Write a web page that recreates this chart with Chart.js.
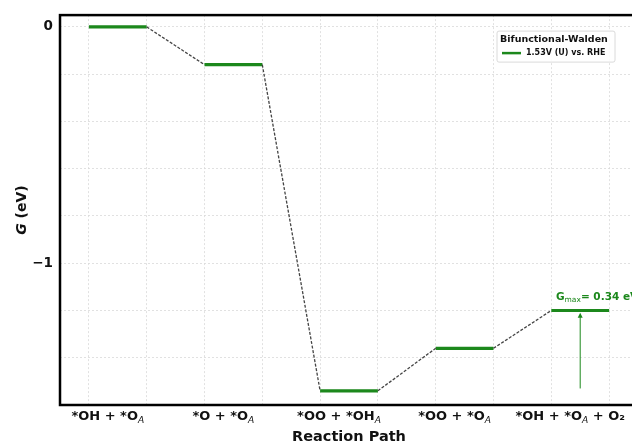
<!DOCTYPE html>
<html lang="en">
  <head>
    <meta charset="UTF-8" />
    <title>Free energy diagram - Bifunctional-Walden</title>
    <script src="https://cdn.jsdelivr.net/npm/chart.js"></script>
    <style>
      body { margin: 0; overflow: hidden; background: #fff; }
      #wrap { width: 650px; height: 444px; }
    </style>
  </head>
  <body>
    <div id="wrap"><canvas id="gChart"></canvas></div>

    <script>
      // reaction steps (text inside _{...} is drawn as subscript)
      const categories = [
        "*OH + *O_{A}",
        "*O + *O_{A}",
        "*OO + *OH_{A}",
        "*OO + *O_{A}",
        "*OH + *O_{A} + O₂",
      ];
      // free energy of each step (eV) at 1.53 V
      const energies = [0, -0.16, -1.54, -1.36, -1.2];
      const yTicks = [0, -0.2, -0.4, -0.6, -0.8, -1, -1.2, -1.4, -1.6];
      const xGrid = [-0.25, 0.25, 0.75, 1.25, 1.75, 2.25, 2.75, 3.25, 3.75, 4.25];

      const legendTitle = "Bifunctional-Walden";
      const seriesLabel = "1.53V (U) vs. RHE";
      const gmaxValue = "0.34";
      const green = "#1c881c";
      const FONT = "DejaVu Sans";

      // build level segments + dashed connectors from the arrays
      const levelPts = [];
      energies.forEach((e, i) => {
        levelPts.push({ x: i - 0.25, y: e }, { x: i + 0.25, y: e }, { x: i + 0.25, y: null });
      });
      const linkPts = [];
      for (let i = 0; i < energies.length - 1; i++) {
        linkPts.push({ x: i + 0.25, y: energies[i] }, { x: i + 0.75, y: energies[i + 1] }, { x: i + 0.75, y: null });
      }

      // text with _{sub} parts
      function drawRich(ctx, str, cx, cy, size) {
        const parts = [];
        const re = /_\{([^}]*)\}/g;
        let last = 0, m;
        while ((m = re.exec(str))) {
          if (m.index > last) parts.push({ t: str.slice(last, m.index), sub: false });
          parts.push({ t: m[1], sub: true });
          last = re.lastIndex;
        }
        if (last < str.length) parts.push({ t: str.slice(last), sub: false });
        const fontOf = (p) => p.sub
          ? "italic " + (size * 0.7).toFixed(1) + "px '" + FONT + "'"
          : "bold " + size + "px '" + FONT + "'";
        let w = 0;
        parts.forEach((p) => { ctx.font = fontOf(p); p.w = ctx.measureText(p.t).width; w += p.w; });
        let xx = cx - w / 2;
        ctx.textAlign = "left";
        ctx.textBaseline = "alphabetic";
        parts.forEach((p) => {
          ctx.font = fontOf(p);
          ctx.fillText(p.t, xx, cy + (p.sub ? size * 0.25 : 0));
          xx += p.w;
        });
      }

      const overlay = {
        id: "overlay",
        afterDraw(chart) {
          const { ctx, chartArea: a, scales } = chart;
          const x = scales.x, y = scales.y;
          ctx.save();

          // frame
          ctx.strokeStyle = "#000";
          ctx.lineWidth = 2.5;
          ctx.strokeRect(a.left, a.top, a.right - a.left, a.bottom - a.top);

          // category labels
          ctx.fillStyle = "#111";
          categories.forEach((c, i) => drawRich(ctx, c, x.getPixelForValue(i) - 10, a.bottom + 15, 13));

          // y title: italic G (eV)
          ctx.save();
          ctx.translate(22, (a.top + a.bottom) / 2);
          ctx.rotate(-Math.PI / 2);
          ctx.font = "bold italic 14px '" + FONT + "'";
          const gW = ctx.measureText("G").width;
          ctx.font = "bold 14px '" + FONT + "'";
          const rW = ctx.measureText(" (eV)").width;
          ctx.textBaseline = "middle";
          ctx.textAlign = "left";
          ctx.font = "bold italic 14px '" + FONT + "'";
          ctx.fillText("G", -(gW + rW) / 2, 0);
          ctx.font = "bold 14px '" + FONT + "'";
          ctx.fillText(" (eV)", -(gW + rW) / 2 + gW, 0);
          ctx.restore();

          // Gmax arrow between lowest level and last level
          const last = energies.length - 1;
          const ax = x.getPixelForValue(last);
          const y0 = y.getPixelForValue(Math.min(...energies) + 0.01);
          const y1 = y.getPixelForValue(energies[last] - 0.01);
          ctx.strokeStyle = green;
          ctx.fillStyle = green;
          ctx.lineWidth = 1;
          ctx.beginPath();
          ctx.moveTo(ax, y0);
          ctx.lineTo(ax, y1 + 4);
          ctx.stroke();
          ctx.beginPath();
          ctx.moveTo(ax, y1);
          ctx.lineTo(ax - 2.5, y1 + 5);
          ctx.lineTo(ax + 2.5, y1 + 5);
          ctx.closePath();
          ctx.fill();

          // Gmax label
          let tx = x.getPixelForValue(last - 0.21);
          const ty = y.getPixelForValue(energies[last] + 0.045);
          ctx.textBaseline = "alphabetic";
          ctx.textAlign = "left";
          ctx.font = "bold 10.5px '" + FONT + "'";
          ctx.fillText("G", tx, ty);
          tx += ctx.measureText("G").width;
          ctx.font = "7.5px '" + FONT + "'";
          ctx.fillText("max", tx, ty + 2);
          tx += ctx.measureText("max").width;
          ctx.font = "bold 10.5px '" + FONT + "'";
          ctx.fillText("= " + gmaxValue + " eV", tx, ty);

          // legend box
          const bx = a.right - 141, by = a.top + 16, bw = 118, bh = 31;
          ctx.fillStyle = "rgba(255,255,255,0.9)";
          ctx.strokeStyle = "#d0d0d0";
          ctx.lineWidth = 0.8;
          ctx.beginPath();
          ctx.roundRect(bx, by, bw, bh, 2);
          ctx.fill();
          ctx.stroke();
          ctx.fillStyle = "#111";
          ctx.font = "bold 9.5px '" + FONT + "'";
          ctx.textBaseline = "middle";
          ctx.fillText(legendTitle, bx + 3, by + 8.5);
          ctx.strokeStyle = green;
          ctx.lineWidth = 2.5;
          ctx.beginPath();
          ctx.moveTo(bx + 5, by + 22);
          ctx.lineTo(bx + 24, by + 22);
          ctx.stroke();
          ctx.font = "bold 8px '" + FONT + "'";
          ctx.fillText(seriesLabel, bx + 29, by + 22);

          ctx.restore();
        },
      };

      const gridStyle = { color: "#dadada", lineWidth: 0.8, borderDash: [2, 2], drawTicks: false };

      new Chart(document.getElementById("gChart"), {
        type: "line",
        data: {
          datasets: [
            {
              label: "links",
              data: linkPts,
              borderColor: "#444",
              borderWidth: 1.3,
              borderDash: [3, 1.6],
              pointRadius: 0,
              spanGaps: false,
            },
            {
              label: seriesLabel,
              data: levelPts,
              borderColor: green,
              borderWidth: 3.2,
              pointRadius: 0,
              spanGaps: false,
            },
          ],
        },
        options: {
          responsive: true,
          maintainAspectRatio: false,
          animation: false,
          layout: { padding: { top: 12, right: 12, bottom: 0, left: 0 } },
          plugins: { legend: { display: false }, tooltip: { enabled: false } },
          scales: {
            x: {
              type: "linear",
              min: -0.5,
              max: 4.5,
              afterBuildTicks: (s) => { s.ticks = xGrid.map((v) => ({ value: v })); },
              afterFit: (s) => { s.height = 39; },
              ticks: { display: false },
              grid: gridStyle,
              border: { display: false, dash: [2, 2] },
              title: {
                display: true,
                text: "Reaction Path",
                color: "#111",
                font: { family: FONT, size: 14.5, weight: "bold" },
                padding: { top: 0, bottom: -2 },
              },
            },
            y: {
              min: -1.6,
              max: 0.05,
              afterBuildTicks: (s) => { s.ticks = yTicks.map((v) => ({ value: v })); },
              afterFit: (s) => { s.width = 60; },
              ticks: {
                color: "#111",
                padding: 7,
                font: { family: FONT, size: 13.5, weight: "bold" },
                callback: (v) => (Number.isInteger(v) ? (v < 0 ? "−" + Math.abs(v) : String(v)) : ""),
              },
              grid: gridStyle,
              border: { display: false, dash: [2, 2] },
            },
          },
        },
        plugins: [overlay],
      });
    </script>
  </body>
</html>
